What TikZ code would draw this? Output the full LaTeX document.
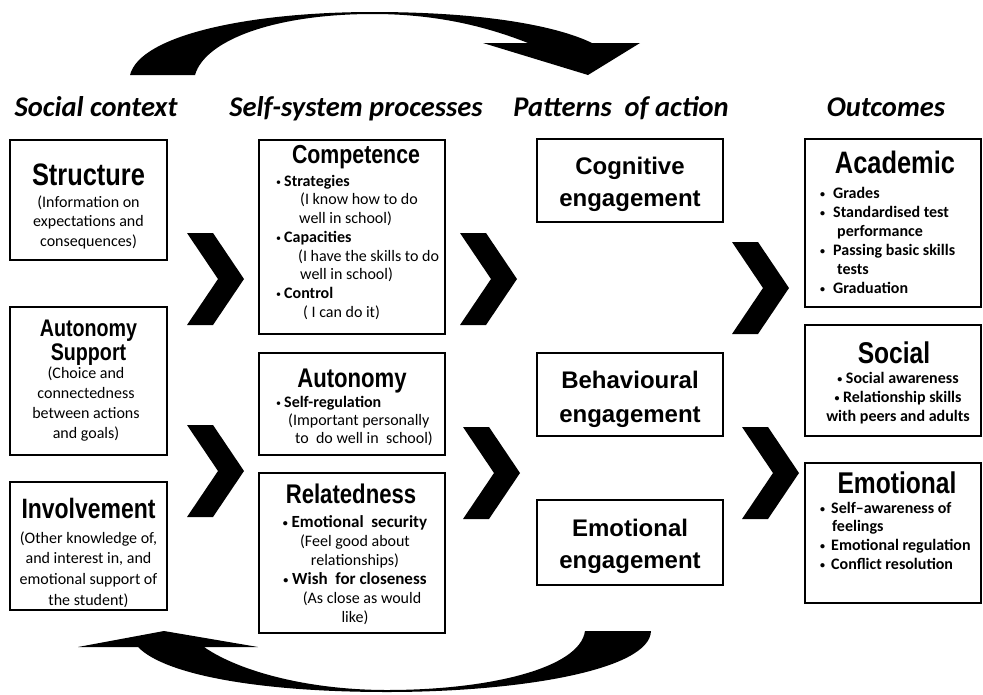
\documentclass[tikz,border=0pt]{standalone}
\usepackage{fontspec}
\setmainfont{Carlito}
\newfontfamily\bodyfont{Carlito}
\newfontfamily\narrowfont[FakeStretch=0.82]{Liberation Sans}
\newfontfamily\arialfont{Liberation Sans}
\newcommand\firstln[1]{\rule{0pt}{#1pt}}
\newcommand\bul{\raisebox{1pt}{\fontsize{10}{10}\selectfont •}}
\begin{document}
\begin{tikzpicture}[x=1pt,y=-1pt,
  box/.style={draw, line width=1.8pt, inner sep=0pt},
  ttl/.style={inner sep=0pt, anchor=base, font=\narrowfont\bfseries\fontsize{#1}{#1}\selectfont},
  attl/.style={inner sep=0pt, anchor=base, font=\arialfont\bfseries\fontsize{24}{24}\selectfont},
  hdr/.style={inner sep=0pt, anchor=base, font=\bodyfont\bfseries\itshape\fontsize{28.5}{28.5}\selectfont},
  body/.style={inner sep=0pt, align=center, anchor=north, font=\bodyfont\fontsize{16}{#1}\selectfont},
  bodyb/.style={inner sep=0pt, align=center, anchor=north, font=\bodyfont\bfseries\fontsize{16}{#1}\selectfont},
  lbody/.style={inner sep=0pt, align=left, anchor=north west, font=\bodyfont\fontsize{16}{#1}\selectfont},
  lbodyb/.style={inner sep=0pt, align=left, anchor=north west, font=\bodyfont\bfseries\fontsize{16}{#1}\selectfont},
  chev/.pic={\fill (0,0) -- (26,0) -- (57,46) -- (26,92) -- (0,92) -- (31,46) -- cycle;}
]
\fill[white] (0,0) rectangle (983,694);
\useasboundingbox (0,0) rectangle (983,694);

% headings
\node[hdr] (h1) at (96,116) {Social context};
\node[hdr] (h2) at (356,116) {Self-system processes};
\node[hdr] (h3) at (621,116) {Patterns\ \ of action};
\node[hdr] (h4) at (886,116) {Outcomes};

% column 1
\node[box, minimum width=157pt, minimum height=120pt] (structure) at (88.5,200) {};
\node[ttl=31] (structure-t) at (88.5,185) {Structure};
\node[body=19.5] (structure-b) at (88.5,191) {\firstln{16}(Information on\\expectations and\\consequences)};

\node[box, minimum width=157pt, minimum height=148pt] (autsup) at (88.5,381) {};
\node[ttl=24] (autsup-t1) at (88.5,336) {Autonomy};
\node[ttl=24] (autsup-t2) at (88.5,360) {Support};
\node[body=20] (autsup-b) at (86,362) {\firstln{16}(Choice and\\connectedness\\between actions\\and goals)};

\node[box, minimum width=157pt, minimum height=128pt] (involve) at (88.5,546) {};
\node[ttl=28] (involve-t) at (88.5,518) {Involvement};
\node[body=20.7] (involve-b) at (88.5,527) {\firstln{16}(Other knowledge of,\\and interest in, and\\emotional support of\\the student)};

% column 2
\node[box, minimum width=186pt, minimum height=194pt] (competence) at (352,237) {};
\node[ttl=26] (competence-t) at (356,163) {Competence};
\node[lbody=18.7] (competence-b) at (276,170) {\firstln{16}\bul\hspace{3pt}\textbf{Strategies}\\\hspace{24pt}(I know how to do\\\hspace{23pt}well in school)\\\bul\hspace{3pt}\textbf{Capacities}\\\hspace{22pt}(I have the skills to do\\\hspace{24pt}well in school)\\\bul\hspace{3pt}\textbf{Control}\\\hspace{27pt}( I can do it)};

\node[box, minimum width=186pt, minimum height=102pt] (autonomy) at (352,404) {};
\node[ttl=27] (autonomy-t) at (352,387) {Autonomy};
\node[lbody=18] (autonomy-b) at (276,391) {\firstln{16}\bul\hspace{3pt}\textbf{Self-regulation}\\\hspace{12pt}(Important personally\\\hspace{19pt}to\ \ do well in\ \ school)};

\node[box, minimum width=186pt, minimum height=160pt] (related) at (352,553) {};
\node[ttl=27] (related-t) at (351,503) {Relatedness};
\node[body=19] (related-b) at (355,511) {\firstln{16}{\fontsize{17}{19}\selectfont\textbf{\bul\ Emotional\ \ security}}\\(Feel good about\\relationships)\\{\fontsize{17}{19}\selectfont\textbf{\bul\ Wish\ \ for closeness}}\\\hspace{14pt}(As close as would\\like)};

% column 3
\node[box, minimum width=186pt, minimum height=83pt] (cognitive) at (630,180.5) {};
\node[attl] (cognitive-t1) at (630,174) {Cognitive};
\node[attl] (cognitive-t2) at (630,206) {engagement};

\node[box, minimum width=186pt, minimum height=83pt] (behav) at (630,394.5) {};
\node[attl] (behav-t1) at (630,388) {Behavioural};
\node[attl] (behav-t2) at (630,422) {engagement};

\node[box, minimum width=186pt, minimum height=85pt] (emoeng) at (630,542.5) {};
\node[attl] (emoeng-t1) at (630,536) {Emotional};
\node[attl] (emoeng-t2) at (630,568) {engagement};

% column 4
\node[box, minimum width=176pt, minimum height=168pt] (academic) at (893,223) {};
\node[ttl=31] (academic-t) at (895,173) {Academic};
\node[lbodyb=19] (academic-b) at (820,182) {\firstln{16}\makebox[13pt][l]{\bul}Grades\\\makebox[13pt][l]{\bul}Standardised test\\\hspace{17pt}performance\\\makebox[13pt][l]{\bul}Passing basic skills\\\hspace{17pt}tests\\\makebox[13pt][l]{\bul}Graduation};

\node[box, minimum width=176pt, minimum height=111pt] (social) at (893,380.5) {};
\node[ttl=30] (social-t) at (894,363) {Social};
\node[bodyb=19] (social-b) at (898,367) {\firstln{16}\bul\ Social awareness\\\bul\ Relationship skills\\with peers and adults};

\node[box, minimum width=176pt, minimum height=140pt] (emotional) at (893,533) {};
\node[ttl=30] (emotional-t) at (897,493) {Emotional};
\node[lbodyb=18.7] (emotional-b) at (820,497) {\firstln{16}\makebox[11pt][l]{\bul}Self–awareness of\\\hspace{12pt}feelings\\\makebox[11pt][l]{\bul}Emotional regulation\\\makebox[11pt][l]{\bul}Conflict resolution};

% chevrons
\pic at (187,233) {chev};
\pic at (187,425) {chev};
\pic at (460,233) {chev};
\pic at (463,427) {chev};
\pic at (732,242) {chev};
\pic at (742,427) {chev};

% top curved arrow
\fill (130,75) .. controls (140,35) and (250,12) .. (373,12)
  .. controls (480,12) and (555,25) .. (592,43) -- (640,43) -- (588,75) -- (483,43) -- (528,43)
  .. controls (480,24) and (430,14) .. (373,14)
  .. controls (275,14) and (205,40) .. (195,75) -- cycle;

% bottom curved arrow
\fill (651,631) .. controls (650,670) and (520,692) .. (387,692)
  .. controls (260,692) and (165,675) .. (138,647) -- (78,647) -- (164,631) -- (258,647) -- (204,647)
  .. controls (240,672) and (310,690) .. (387,690)
  .. controls (490,690) and (580,668) .. (585,631) -- cycle;
\end{tikzpicture}
\end{document}
